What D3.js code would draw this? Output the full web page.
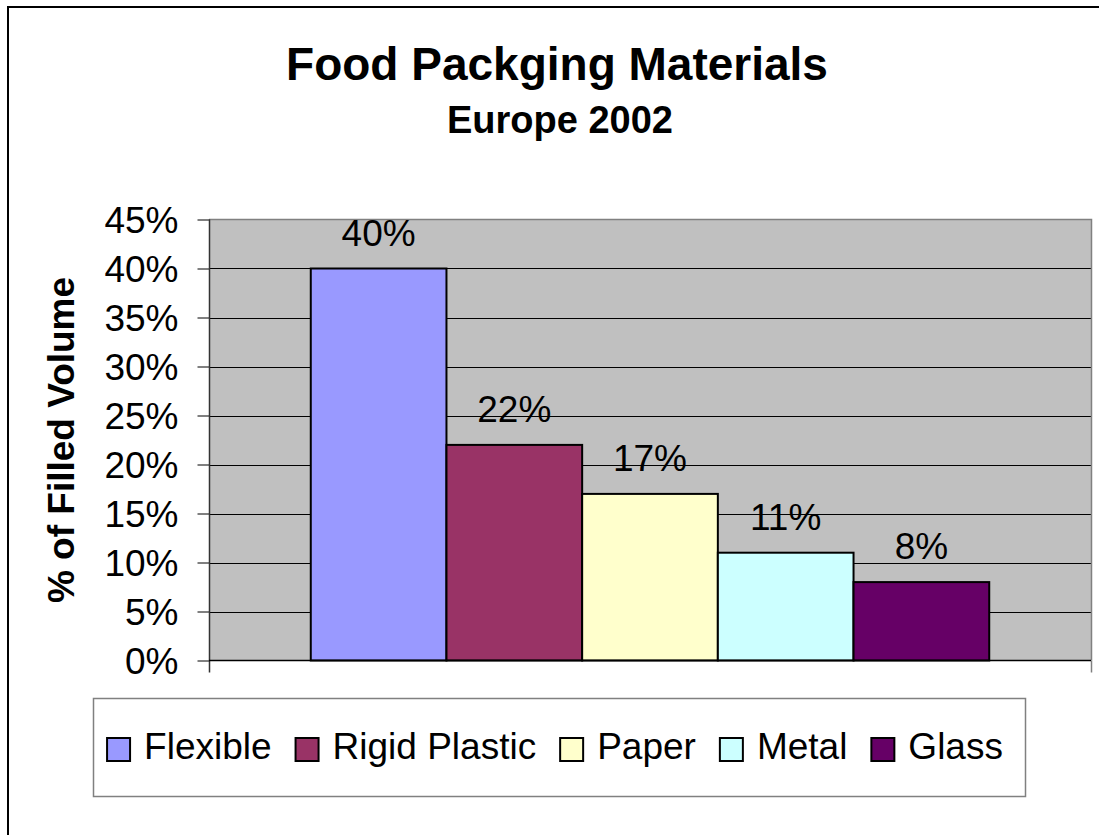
<!DOCTYPE html>
<html>
  <head>
    <meta charset="utf-8">
    <title>Food Packging Materials</title>
    <script src="https://d3js.org/d3.v7.min.js"></script>
    <style>
      body { margin: 0; background: #fff; }
      svg { display: block; }
      text { font-family: "Liberation Sans", Arial, sans-serif; fill: #000; }
    </style>
  </head>
  <body>
    <div id="chart"></div>
    <script>
      // data
      var materials = ["Flexible", "Rigid Plastic", "Paper", "Metal", "Glass"];
      var shares = [0.40, 0.22, 0.17, 0.11, 0.08];
      var colours = ["#9999FF", "#993366", "#FFFFCC", "#CCFFFF", "#660066"];
      var yTicks = [0, 0.05, 0.10, 0.15, 0.20, 0.25, 0.30, 0.35, 0.40, 0.45];
      var title = "Food Packging Materials";
      var subtitle = "Europe 2002";
      var yTitle = "% of Filled Volume";

      var width = 1099, height = 835;
      var plot = { left: 209, right: 1091, top: 219.5, bottom: 660.5 };

      var svg = d3.select("#chart").append("svg")
        .attr("width", width)
        .attr("height", height);

      // chart frame (only top and left edges are visible)
      svg.append("rect")
        .attr("x", 8).attr("y", 7)
        .attr("width", 1200).attr("height", 1000)
        .attr("fill", "none")
        .attr("stroke", "#000")
        .attr("stroke-width", 2);

      // titles
      svg.append("text")
        .attr("x", 557).attr("y", 80)
        .attr("text-anchor", "middle")
        .style("font-size", "46px")
        .style("font-weight", "bold")
        .text(title);
      svg.append("text")
        .attr("x", 560).attr("y", 133)
        .attr("text-anchor", "middle")
        .style("font-size", "38px")
        .style("font-weight", "bold")
        .text(subtitle);

      // scales
      var y = d3.scaleLinear()
        .domain([0, 0.45])
        .range([plot.bottom, plot.top]);
      var x = d3.scaleBand()
        .domain(materials)
        .range([plot.left, plot.right])
        .paddingInner(0)
        .paddingOuter(0.75);

      // plot area
      svg.append("rect")
        .attr("x", plot.left).attr("y", plot.top)
        .attr("width", plot.right - plot.left)
        .attr("height", plot.bottom - plot.top)
        .attr("fill", "#C0C0C0");

      // gridlines
      svg.append("g")
        .selectAll("line")
        .data(yTicks.filter(function(d) { return d > 0 && d < 0.45; }))
        .enter().append("line")
          .attr("x1", plot.left).attr("x2", plot.right)
          .attr("y1", function(d) { return Math.round(y(d)) + 0.5; })
          .attr("y2", function(d) { return Math.round(y(d)) + 0.5; })
          .attr("stroke", "#000")
          .attr("stroke-width", 1);

      // plot border (top/right gray)
      svg.append("path")
        .attr("d", "M" + plot.left + "," + plot.top + "H" + (plot.right + 0.5) + "V" + plot.bottom)
        .attr("fill", "none")
        .attr("stroke", "#808080")
        .attr("stroke-width", 1.5);

      // bars
      svg.append("g")
        .selectAll("rect")
        .data(shares)
        .enter().append("rect")
          .attr("x", function(d, i) { return x(materials[i]); })
          .attr("y", function(d) { return y(d); })
          .attr("width", x.bandwidth())
          .attr("height", function(d) { return y(0) - y(d); })
          .attr("fill", function(d, i) { return colours[i]; })
          .attr("stroke", "#000")
          .attr("stroke-width", 2);

      // data labels
      svg.append("g")
        .selectAll("text")
        .data(shares)
        .enter().append("text")
          .attr("x", function(d, i) { return x(materials[i]) + x.bandwidth() / 2; })
          .attr("y", function(d) { return y(d) - 23; })
          .attr("text-anchor", "middle")
          .style("font-size", "37px")
          .text(d3.format(".0%"));

      // y axis
      var yAxis = svg.append("g")
        .attr("transform", "translate(" + (plot.left + 0.5) + ",0)")
        .call(d3.axisLeft(y)
          .tickValues(yTicks)
          .tickSize(12)
          .tickSizeOuter(0)
          .tickPadding(19)
          .tickFormat(d3.format(".0%")));
      yAxis.select(".domain").remove();
      yAxis.selectAll(".tick line").attr("stroke", "#000");
      yAxis.selectAll(".tick text")
        .style("font-size", "37px")
        .style("font-family", "'Liberation Sans', Arial, sans-serif")
        .attr("dy", "0.35em");

      // axis lines, including the category boundary ticks
      svg.append("line")
        .attr("x1", plot.left + 0.5).attr("x2", plot.left + 0.5)
        .attr("y1", plot.top).attr("y2", plot.bottom + 12)
        .attr("stroke", "#333").attr("stroke-width", 1.5);
      svg.append("line")
        .attr("x1", plot.right + 0.5).attr("x2", plot.right + 0.5)
        .attr("y1", plot.bottom).attr("y2", plot.bottom + 12)
        .attr("stroke", "#808080").attr("stroke-width", 1.5);
      svg.append("line")
        .attr("x1", plot.left).attr("x2", plot.right)
        .attr("y1", plot.bottom).attr("y2", plot.bottom)
        .attr("stroke", "#000").attr("stroke-width", 1.5);

      // y axis title
      svg.append("text")
        .attr("transform", "translate(74," + ((plot.top + plot.bottom) / 2) + ") rotate(-90)")
        .attr("text-anchor", "middle")
        .style("font-size", "37px")
        .style("font-weight", "bold")
        .text(yTitle);

      // legend
      var legendBox = { x: 93, y: 698, w: 932, h: 98 };
      svg.append("rect")
        .attr("x", legendBox.x + 0.5).attr("y", legendBox.y + 0.5)
        .attr("width", legendBox.w).attr("height", legendBox.h)
        .attr("fill", "#fff")
        .attr("stroke", "#808080")
        .attr("stroke-width", 1.5);

      var legend = svg.append("g");
      var items = legend.selectAll("g")
        .data(materials)
        .enter().append("g");
      items.append("rect")
        .attr("width", 23).attr("height", 23)
        .attr("y", 738)
        .attr("fill", function(d, i) { return colours[i]; })
        .attr("stroke", "#000")
        .attr("stroke-width", 2);
      items.append("text")
        .attr("x", 37)
        .attr("y", 759)
        .style("font-size", "37px")
        .text(function(d) { return d; });

      // lay out legend items side by side, centred in the box
      var itemGap = 24;
      var widths = [];
      items.each(function() {
        widths.push(37 + d3.select(this).select("text").node().getComputedTextLength());
      });
      var total = d3.sum(widths) + itemGap * (widths.length - 1);
      var cursor = legendBox.x + legendBox.w / 2 - 4 - total / 2;
      items.attr("transform", function(d, i) {
        var t = "translate(" + cursor + ",0)";
        cursor += widths[i] + itemGap;
        return t;
      });
    </script>
  </body>
</html>
